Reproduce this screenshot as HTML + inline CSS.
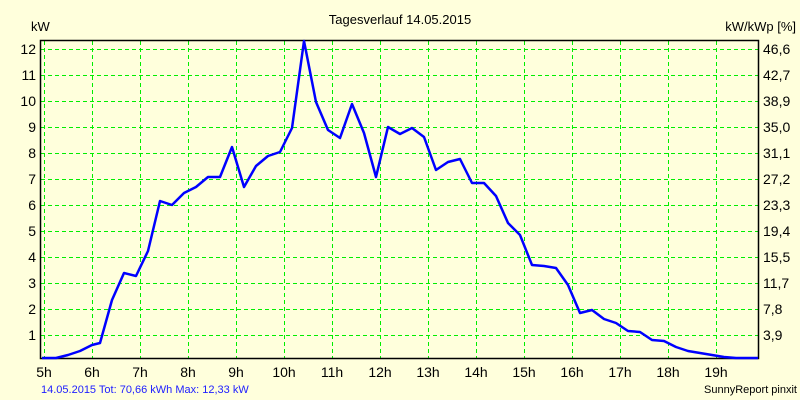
<!DOCTYPE html>
<html><head><meta charset="utf-8"><style>
body{margin:0;background:#ffffdc;}
svg{display:block;font-family:"Liberation Sans",Arial,sans-serif;}
</style></head><body>
<svg width="800" height="400" xmlns="http://www.w3.org/2000/svg">
<rect width="800" height="400" fill="#ffffdc"/>
<text x="400" y="24" font-size="13" text-anchor="middle" fill="#000">Tagesverlauf 14.05.2015</text>
<text x="31" y="31" font-size="13" fill="#000">kW</text>
<text x="796" y="31" font-size="13" text-anchor="end" fill="#000">kW/kWp [%]</text>
<g stroke="#00ee00" stroke-width="1.2" stroke-dasharray="4,3" fill="none" shape-rendering="crispEdges">
<path d="M41 49.5H759M41 75.5H759M41 101.5H759M41 127.5H759M41 153.5H759M41 179.5H759M41 205.5H759M41 231.5H759M41 257.5H759M41 283.5H759M41 309.5H759M41 335.5H759"/>
<path d="M44.5 41V358M92.5 41V358M140.5 41V358M188.5 41V358M236.5 41V358M284.5 41V358M332.5 41V358M380.5 41V358M428.5 41V358M476.5 41V358M524.5 41V358M572.5 41V358M620.5 41V358M668.5 41V358M716.5 41V358"/>
</g>
<rect x="40.5" y="40.5" width="718" height="318" fill="none" stroke="#000" stroke-width="1.5"/>
<g font-size="14" fill="#000" text-anchor="end">
<text x="36" y="54">12</text><text x="36" y="80">11</text><text x="36" y="106">10</text><text x="36" y="132">9</text><text x="36" y="158">8</text><text x="36" y="184">7</text><text x="36" y="210">6</text><text x="36" y="236">5</text><text x="36" y="262">4</text><text x="36" y="288">3</text><text x="36" y="314">2</text><text x="36" y="340">1</text>
</g>
<g font-size="14" fill="#000">
<text x="763" y="54">46,6</text><text x="763" y="80">42,7</text><text x="763" y="106">38,9</text><text x="763" y="132">35,0</text><text x="763" y="158">31,1</text><text x="763" y="184">27,2</text><text x="763" y="210">23,3</text><text x="763" y="236">19,4</text><text x="763" y="262">15,5</text><text x="763" y="288">11,7</text><text x="763" y="314">7,8</text><text x="763" y="340">3,9</text>
</g>
<g font-size="14" fill="#000" text-anchor="middle">
<text x="44" y="377">5h</text><text x="92" y="377">6h</text><text x="140" y="377">7h</text><text x="188" y="377">8h</text><text x="236" y="377">9h</text><text x="284" y="377">10h</text><text x="332" y="377">11h</text><text x="380" y="377">12h</text><text x="428" y="377">13h</text><text x="476" y="377">14h</text><text x="524" y="377">15h</text><text x="572" y="377">16h</text><text x="620" y="377">17h</text><text x="668" y="377">18h</text><text x="716" y="377">19h</text>
</g>
<polyline fill="none" stroke="#0000ff" stroke-width="2.5" stroke-linejoin="round" points="42,358 56,358 68,355 80,351 92,345 100,343 112,300 124,273 136,276 148,251 160,201 172,205 184,193 196,187 208,177 220,177 232,147 244,187 256,166 268,156 280,152 292,128 304,41 316,102 328,130 340,138 352,104 364,133 376,177 388,127 400,134 412,128 424,137 436,170 448,162 460,159 472,183 484,183 496,196 508,223 520,235 532,265 544,266 556,268 568,285 580,313 592,310 604,319 616,323 628,331 640,332 652,340 664,341 676,347 688,351 700,353 712,355 724,357 736,358 758,358"/>
<text x="41" y="393" font-size="11" fill="#2020ff">14.05.2015 Tot: 70,66 kWh Max: 12,33 kW</text>
<text x="797" y="393" font-size="11" text-anchor="end" fill="#000">SunnyReport pinxit</text>
</svg>
</body></html>
